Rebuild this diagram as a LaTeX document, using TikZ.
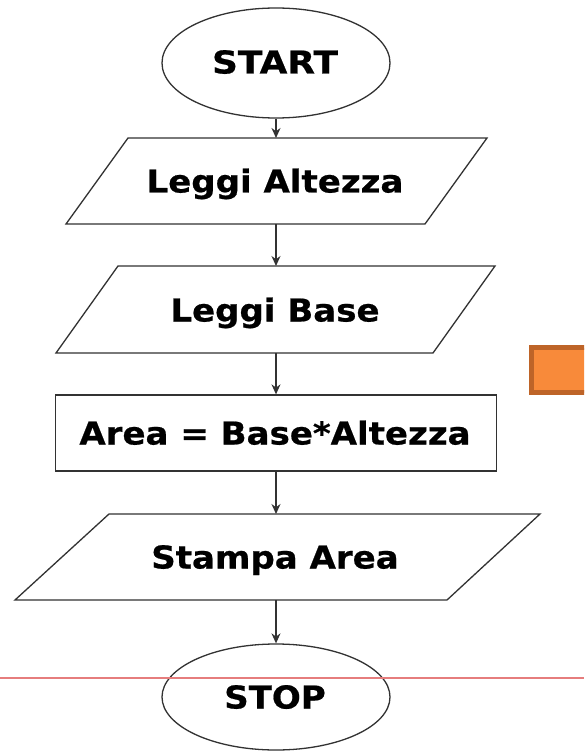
\documentclass[tikz,border=0pt]{standalone}
\usepackage{fontspec}
\setmainfont{DejaVu Sans}
\newfontfamily\flowfont[FakeStretch=1.08, FakeBold=0.6]{DejaVu Sans Bold}
\newfontfamily\widefont[FakeStretch=1.14, FakeBold=0.6]{DejaVu Sans Bold}
\usetikzlibrary{shapes.geometric,arrows.meta}
\definecolor{edgegray}{RGB}{50,50,50}
\definecolor{guidered}{RGB}{230,125,125}
\definecolor{orangefill}{RGB}{248,138,58}
\definecolor{orangeedge}{RGB}{190,100,40}
\tikzset{
  shapeline/.style={draw=edgegray, line width=1.3pt},
  terminal/.style={shapeline, ellipse, inner sep=0pt, minimum width=228pt, minimum height=110pt},
  lbl/.style={inner sep=0pt, text height=23pt, text depth=0pt, font=\flowfont\fontsize{31.5}{36}\selectfont},
  widelbl/.style={lbl, font=\widefont\fontsize{31.5}{36}\selectfont},
  flow/.style={draw=edgegray, line width=1.3pt, -{Stealth[length=10pt,width=9pt]}},
}
\begin{document}
\begin{tikzpicture}[x=1pt, y=-1pt]
  \useasboundingbox (0,0) rectangle (584,751);
  \clip (0,0) rectangle (584,751);
  \fill[white] (0,0) rectangle (584,751);

  % start terminal
  \node[terminal] (start) at (276,63) {};
  \node[widelbl] (startlbl) at (275,62) {START};

  % input: height
  \coordinate (inA) at (276,138);
  \coordinate (outA) at (276,224);
  \draw[shapeline] (128,138) -- (487,138) -- (425,224) -- (66,224) -- cycle;
  \node[lbl] (readh) at (275,181) {Leggi Altezza};

  % input: base
  \coordinate (inB) at (276,266);
  \coordinate (outB) at (276,353);
  \draw[shapeline] (118,266) -- (495,266) -- (433,353) -- (56,353) -- cycle;
  \node[lbl] (readb) at (275,310) {Leggi Base};

  % computation
  \node[shapeline, rectangle, minimum width=441pt, minimum height=76pt, inner sep=0pt] (calc) at (276,433) {};
  \node[lbl] (calclbl) at (275,433) {Area = Base*Altezza};

  % output
  \coordinate (inC) at (276,514);
  \coordinate (outC) at (276,600);
  \draw[shapeline] (109,514) -- (540,514) -- (447,600) -- (15,600) -- cycle;
  \node[lbl] (print) at (275,557) {Stampa Area};

  % stop terminal
  \node[terminal, minimum height=106pt] (stop) at (276,697) {};
  \node[lbl] (stoplbl) at (275,697) {STOP};

  % connectors
  \draw[flow] (start.south) -- (inA);
  \draw[flow] (outA) -- (inB);
  \draw[flow] (outB) -- (calc.north);
  \draw[flow] (calc.south) -- (inC);
  \draw[flow] (outC) -- (stop.north);

  % orange tab at the right edge
  \draw[orangeedge, fill=orangefill, line width=5pt] (531.5,347.5) rectangle (600,392.5);

  % guide line across the bottom
  \draw[guidered, line width=2pt] (0,677.5) -- (584,677.5);
\end{tikzpicture}
\end{document}
